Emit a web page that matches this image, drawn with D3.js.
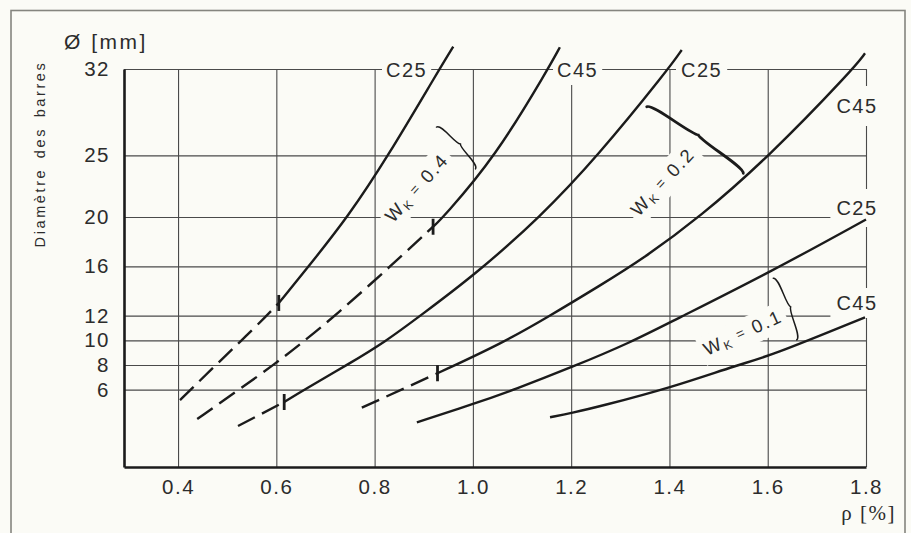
<!DOCTYPE html>
<html><head><meta charset="utf-8">
<script src="https://cdn.jsdelivr.net/npm/d3@7"></script>
<style>
html,body{margin:0;padding:0;background:#fbfbf6;}
svg{display:block;}
</style></head><body>
<svg id="chart" width="911" height="533"></svg>
<script>
// ---------------- data ----------------
const xTicks = [0.4, 0.6, 0.8, 1.0, 1.2, 1.4, 1.6, 1.8];
const xTickLabels = ["0.4", "0.6", "0.8", "1.0", "1.2", "1.4", "1.6", "1.8"];
const yTicks = [6, 8, 10, 12, 16, 20, 25, 32];
const yTickLabels = ["6", "8", "10", "12", "16", "20", "25", "32"];

const concreteClass = ["C25", "C45", "C25", "C45", "C25", "C45"];
const crackWidth = [0.4, 0.4, 0.2, 0.2, 0.1, 0.1];
// rho value where the (dashed) extrapolated part ends and the valid part starts
const solidFrom = [0.605, 0.919, 0.616, 0.928, null, null];

const rhoW04C25 = [0.404, 0.425, 0.479, 0.526, 0.580, 0.605, 0.668, 0.746, 0.826, 0.932, 0.960];
const diaW04C25 = [5.16, 5.97, 8.08, 9.87, 11.97, 13.03, 16.11, 20.03, 24.84, 32.0, 33.81];

const rhoW04C45 = [0.439, 0.523, 0.597, 0.655, 0.719, 0.835, 0.919, 0.940, 1.045, 1.153, 1.177];
const diaW04C45 = [3.62, 5.97, 8.08, 9.89, 11.97, 16.1, 19.21, 20.0, 24.84, 32.0, 33.76];

const rhoW02C25 = [0.522, 0.616, 0.656, 0.750, 0.821, 0.892, 1.006, 1.137, 1.252, 1.398, 1.425];
const diaW02C25 = [3.05, 5.0, 5.97, 8.15, 9.87, 11.97, 15.38, 20.0, 24.84, 32.0, 33.54];

const rhoW02C45 = [0.774, 0.928, 1.061, 1.153, 1.259, 1.344, 1.462, 1.601, 1.774, 1.798];
const diaW02C45 = [4.54, 7.33, 9.80, 11.90, 14.45, 16.55, 20.0, 24.84, 32.0, 33.27];

const rhoW01C25 = [0.886, 1.006, 1.082, 1.204, 1.323, 1.403, 1.601, 1.800];
const diaW01C25 = [3.35, 4.90, 5.97, 7.86, 9.87, 11.5, 15.44, 19.8];

const rhoW01C45 = [1.157, 1.204, 1.259, 1.403, 1.544, 1.601, 1.798];
const diaW01C45 = [3.76, 4.13, 4.65, 6.16, 8.08, 8.67, 11.87];

const curveRho = [rhoW04C25, rhoW04C45, rhoW02C25, rhoW02C45, rhoW01C25, rhoW01C45];
const curveDia = [diaW04C25, diaW04C45, diaW02C25, diaW02C45, diaW01C25, diaW01C45];

const groupLabels = ["0.4", "0.2", "0.1"];

// ---------------- layout / style ----------------
const W = 911, H = 533;
const BG = "#fbfbf6", INK = "#1b1b1b", GRID = "#4a4a4a", TXT = "#2c2c2c";
const FONT = "'Liberation Sans', Arial, Helvetica, sans-serif";

const svg = d3.select("#chart");
const x = d3.scaleLinear().domain([0.29, 1.8]).range([124, 866]);
const y = d3.scaleLinear().domain([-0.27, 32]).range([467, 69]);

svg.append("rect").attr("width", W).attr("height", H).attr("fill", BG);
svg.append("rect").attr("x", 11).attr("y", 10.5).attr("width", 894).attr("height", 600)
  .attr("fill", "none").attr("stroke", "#85857f").attr("stroke-width", 1.6);

const gridLayer = svg.append("g");
const maskLayer = svg.append("g");
const curveLayer = svg.append("g");
const labelLayer = svg.append("g");

// axes + grid
const yAxis = d3.axisLeft(y).tickValues(yTicks).tickFormat((d, i) => yTickLabels[i])
  .tickSize(-(x.range()[1] - x.range()[0])).tickSizeOuter(0).tickPadding(14);
const gy = gridLayer.append("g").attr("transform", `translate(${x.range()[0]},0)`).call(yAxis);

const xAxis = d3.axisBottom(x).tickValues(xTicks).tickFormat((d, i) => xTickLabels[i])
  .tickSize(-(y.range()[0] - y.range()[1])).tickSizeOuter(0).tickPadding(12);
const gx = gridLayer.append("g").attr("transform", `translate(0,${y.range()[0]})`).call(xAxis);

[gx, gy].forEach(g => {
  g.select(".domain").attr("stroke", INK).attr("stroke-width", 2.6);
  g.selectAll(".tick line").attr("stroke", GRID).attr("stroke-width", 1.1);
  g.selectAll(".tick text").attr("fill", TXT).attr("font-family", FONT)
    .attr("font-size", 20.5).attr("letter-spacing", 1.5);
});
gx.select(".domain").raise();
gy.select(".domain").raise();

// axis titles
labelLayer.append("text").attr("x", 64).attr("y", 49).attr("fill", TXT)
  .attr("font-family", FONT).attr("font-size", 21).attr("letter-spacing", 2.5)
  .text("Ø [mm]");
labelLayer.append("text").attr("transform", "translate(45,154) rotate(-90)")
  .attr("text-anchor", "middle").attr("fill", TXT).attr("font-family", FONT)
  .attr("font-size", 14.5).attr("letter-spacing", 2.6).attr("word-spacing", 3)
  .text("Diamètre des barres");
labelLayer.append("text").attr("x", 896).attr("y", 520).attr("text-anchor", "end")
  .attr("fill", TXT).attr("font-family", "'Liberation Serif', 'DejaVu Serif', serif")
  .attr("font-size", 21).attr("letter-spacing", 1.5).text("ρ [%]");

// helper: text with a background patch that interrupts the grid
function maskedText(tx, ty, angle, build, pad) {
  const g = labelLayer.append("g").attr("transform", `translate(${tx},${ty}) rotate(${angle})`);
  const t = g.append("text").attr("fill", TXT).attr("font-family", FONT);
  build(t);
  const b = t.node().getBBox();
  maskLayer.append("g").attr("transform", `translate(${tx},${ty}) rotate(${angle})`)
    .append("rect").attr("x", b.x - pad[0]).attr("y", b.y - pad[1])
    .attr("width", b.width + 2 * pad[0]).attr("height", b.height + 2 * pad[1])
    .attr("fill", BG);
  return t;
}

// curves
const line = d3.line().x(d => x(d[0])).y(d => y(d[1])).curve(d3.curveBasis);
curveRho.forEach((rs, ci) => {
  const pts = rs.map((r, i) => [r, curveDia[ci][i]]);
  const brk = solidFrom[ci];
  if (brk != null) {
    const dashed = pts.filter(p => p[0] <= brk);
    const solid = pts.filter(p => p[0] >= brk);
    curveLayer.append("path").attr("d", line(dashed)).attr("fill", "none")
      .attr("stroke", INK).attr("stroke-width", 2.4).attr("stroke-dasharray", "19,8");
    curveLayer.append("path").attr("d", line(solid)).attr("fill", "none")
      .attr("stroke", INK).attr("stroke-width", 2.4);
    const bp = solid[0];
    curveLayer.append("line").attr("x1", x(bp[0])).attr("x2", x(bp[0]))
      .attr("y1", y(bp[1]) - 8).attr("y2", y(bp[1]) + 8)
      .attr("stroke", INK).attr("stroke-width", 2.8);
  } else {
    curveLayer.append("path").attr("d", line(pts)).attr("fill", "none")
      .attr("stroke", INK).attr("stroke-width", 2.4);
  }
});

// concrete class labels at curve ends
const classLabelPos = [[386, 77], [557, 77], [681, 77], [857, 113], [857, 215], [857, 310]];
const classLabelPad = [[4, 4], [4, 4], [5, 4], [6, 9], [6, 8], [6, 4]];
concreteClass.forEach((c, i) => {
  const [lx, ly] = classLabelPos[i];
  maskedText(lx, ly, 0, t => {
    t.attr("font-size", 20).attr("letter-spacing", 1.5)
      .attr("text-anchor", i >= 3 ? "middle" : "start").text(c);
  }, classLabelPad[i]);
});

// crack width labels (w_k)
const wkPos = [[417, 188, -48], [663, 182, -47.4], [743, 333, -24.5]];
groupLabels.forEach((v, i) => {
  const [cx, cy, a] = wkPos[i];
  maskedText(cx, cy, a, t => {
    t.attr("text-anchor", "middle").attr("font-size", 18.5).attr("letter-spacing", 2).attr("y", 6);
    t.append("tspan").text("W");
    t.append("tspan").attr("font-size", 12).attr("dy", 3).text("K");
    t.append("tspan").attr("font-size", 14).attr("dy", -5).text(" =");
    t.append("tspan").attr("dy", 2).text(" " + v);
  }, [4, 3]);
});

// braces
function bracePath(L, d) {
  return `M0,${-L} C${d},${-L * 0.95} ${d * 0.35},${-L * 0.12} ${d},0 C${d * 0.35},${L * 0.12} ${d},${L * 0.95} 0,${L}`;
}
const braces = [[456, 148, -43, 28.6, 6, 1.5], [695, 140, -55.4, 58.6, 6, 2.8], [785, 309, -20.8, 33, 6, 1.5]];
braces.forEach(([cx, cy, a, L, d, sw]) => {
  labelLayer.append("path").attr("transform", `translate(${cx},${cy}) rotate(${a})`)
    .attr("d", bracePath(L, d)).attr("fill", "none").attr("stroke", INK)
    .attr("stroke-width", sw).attr("stroke-linecap", "round");
});
</script>
</body></html>
